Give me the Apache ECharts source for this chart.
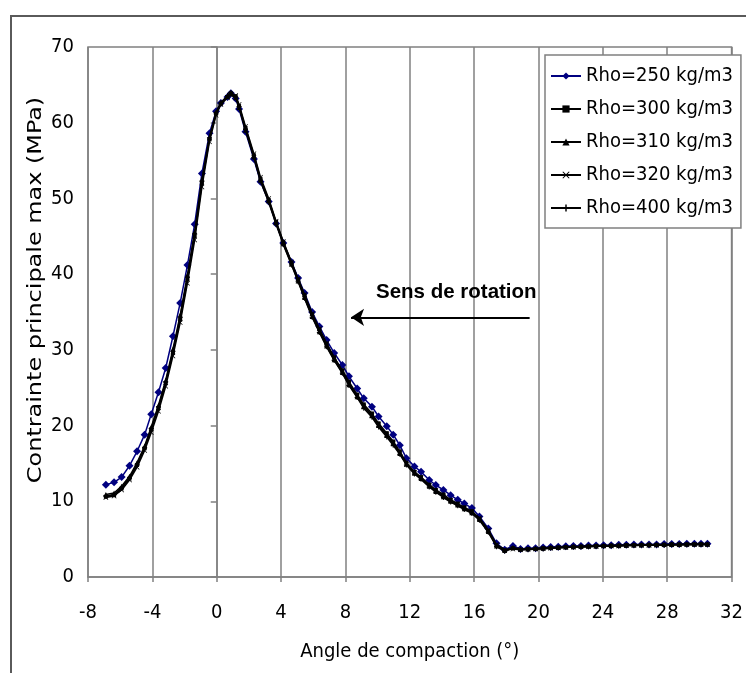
<!DOCTYPE html>
<html>
<head>
<meta charset="utf-8">
<script src="https://cdn.jsdelivr.net/npm/echarts@6/dist/echarts.min.js"></script>
<style>
html,body{margin:0;padding:0;background:#fff;}
#chart{width:746px;height:673px;}
</style>
</head>
<body>
<div id="chart"></div>
<script>
// Angle de compaction (°)
var xs = [-6.89,-6.38,-5.91,-5.42,-4.95,-4.48,-4.07,-3.62,-3.17,-2.72,-2.27,-1.82,-1.37,-0.92,-0.45,-0.04,
  0.26,0.67,0.88,1.18,1.39,1.79,
  2.31,2.72,3.23,3.69,4.14,4.65,5.06,5.46,5.93,6.38,
  6.83,7.30,7.81,8.22,8.73,9.14,9.65,10.06,10.57,10.97,
  11.38,11.79,12.29,12.70,13.21,13.62,14.09,14.54,14.98,15.39,
  15.86,16.33,16.88,17.39,17.90,18.41,18.88,19.35,19.82,20.29,
  20.76,21.23,21.70,22.17,22.64,23.11,23.58,24.05,24.52,24.99,
  25.46,25.93,26.40,26.87,27.34,27.81,28.28,28.75,29.22,29.69,
  30.10,30.50];

var rho250 = [12.2,12.5,13.2,14.7,16.6,18.8,21.5,24.4,27.6,31.8,36.2,41.2,46.6,53.3,58.6,61.5,
  62.6,63.4,63.9,63.2,61.8,58.8,
  55.2,52.2,49.6,46.7,44.1,41.6,39.5,37.5,35.0,33.1,
  31.3,29.6,28.0,26.5,24.9,23.6,22.5,21.2,19.9,18.8,
  17.4,15.7,14.6,13.9,12.8,12.15,11.5,10.8,10.2,9.7,
  9.1,8.0,6.4,4.45,3.6,4.1,3.7,3.8,3.8,3.9,
  3.95,4.0,4.05,4.1,4.1,4.15,4.15,4.2,4.2,4.25,
  4.25,4.3,4.3,4.3,4.3,4.35,4.35,4.35,4.4,4.4,
  4.4,4.4];

var rho300 = [10.6,10.8,11.7,13.0,14.8,17.0,19.5,22.3,25.6,29.6,34.0,39.3,45.0,52.0,57.8,61.2,
  62.5,63.4,63.9,63.5,62.2,59.3,
  55.7,52.6,49.8,46.9,44.2,41.5,39.3,37.2,34.7,32.7,
  30.8,29.0,27.3,25.8,24.1,22.8,21.6,20.3,19.0,17.9,
  16.6,15.1,13.9,13.2,12.2,11.5,10.9,10.2,9.7,9.2,
  8.7,7.7,6.1,4.2,3.5,3.8,3.6,3.7,3.7,3.8,
  3.85,3.9,3.95,4.0,4.0,4.05,4.1,4.1,4.15,4.15,
  4.2,4.2,4.2,4.25,4.25,4.25,4.3,4.3,4.3,4.3,
  4.3,4.3];

var rho310 = [10.9,11.1,12.0,13.3,15.1,17.3,19.8,22.7,26.0,30.1,34.6,39.9,45.6,52.5,58.1,61.4,
  62.7,63.5,63.8,63.3,62.0,59.0,
  55.5,52.4,49.7,46.8,44.0,41.3,39.1,36.9,34.4,32.4,
  30.5,28.7,27.0,25.4,23.8,22.5,21.3,20.0,18.7,17.6,
  16.3,14.9,13.7,13.0,12.0,11.3,10.6,10.0,9.5,9.0,
  8.5,7.6,6.0,4.1,3.5,3.9,3.7,3.7,3.8,3.8,
  3.9,3.9,4.0,4.0,4.05,4.1,4.1,4.15,4.15,4.2,
  4.2,4.25,4.25,4.25,4.3,4.3,4.3,4.3,4.35,4.35,
  4.35,4.35];

var rho320 = [10.5,10.7,11.5,12.8,14.5,16.7,19.1,21.9,25.2,29.2,33.6,38.8,44.5,51.5,57.5,61.0,
  62.4,63.3,63.7,63.6,62.4,59.5,
  55.9,52.8,50.0,47.0,44.3,41.6,39.4,37.3,34.8,32.8,
  30.9,29.0,27.2,25.6,23.9,22.6,21.4,20.1,18.8,17.7,
  16.4,14.9,13.8,13.1,12.1,11.4,10.7,10.1,9.6,9.1,
  8.6,7.8,6.2,4.3,3.6,3.7,3.6,3.7,3.7,3.8,
  3.8,3.85,3.9,3.95,4.0,4.0,4.05,4.1,4.1,4.1,
  4.15,4.15,4.2,4.2,4.2,4.25,4.25,4.25,4.3,4.3,
  4.3,4.3];

var rho400 = [10.7,10.9,11.8,13.1,14.9,17.1,19.6,22.5,25.8,29.8,34.3,39.6,45.3,52.3,58.0,61.3,
  62.6,63.6,64.0,63.4,62.1,59.1,
  55.4,52.3,49.5,46.6,43.9,41.2,39.0,36.8,34.3,32.3,
  30.4,28.6,26.9,25.3,23.7,22.3,21.1,19.8,18.5,17.4,
  16.2,14.8,13.6,12.9,11.9,11.2,10.5,9.9,9.4,8.9,
  8.4,7.5,5.9,4.0,3.4,3.8,3.6,3.6,3.7,3.7,
  3.8,3.85,3.9,3.95,3.95,4.0,4.05,4.05,4.1,4.1,
  4.15,4.15,4.2,4.2,4.2,4.2,4.25,4.25,4.25,4.3,
  4.3,4.3];

var seriesNames = ['Rho=250 kg/m3','Rho=300 kg/m3','Rho=310 kg/m3','Rho=320 kg/m3','Rho=400 kg/m3'];
var xTicks = {min: -8, max: 32, step: 4};
var yTicks = {min: 0, max: 70, step: 10};
var xTitle = 'Angle de compaction (°)';
var yTitle = 'Contrainte principale max (MPa)';
var annotationText = 'Sens de rotation';
var arrowFrom = [19.45, 34.3];
var arrowTo = [8.35, 34.3];

var FF = "'DejaVu Sans Condensed', 'DejaVu Sans', sans-serif";
var GRID = '#808080';

function pairs(ys){ return xs.map(function(x,i){ return [x, ys[i]]; }); }

var styles = [
  {color:'#000080', symbol:'diamond', size:8},
  {color:'#000000', symbol:'rect', size:4},
  {color:'#000000', symbol:'triangle', size:5},
  {color:'#000000', symbol:'path://M0,1L1,0L5,4L9,0L10,1L6,5L10,9L9,10L5,6L1,10L0,9L4,5Z', size:5},
  {color:'#000000', symbol:'path://M4,0H6V4H10V6H6V10H4V6H0V4H4Z', size:5}
];
var allData = [rho250, rho300, rho310, rho320, rho400];

var series = allData.map(function(d, k){
  var s = {
    name: seriesNames[k],
    type: 'line',
    data: pairs(d),
    symbol: styles[k].symbol,
    symbolSize: styles[k].size,
    showSymbol: true,
    color: styles[k].color,
    lineStyle: {color: styles[k].color, width: 1.5},
    itemStyle: {color: styles[k].color},
    emphasis: {disabled: true},
    z: 3 + k
  };
  if (k === 0) {
    s.markLine = {
      silent: true,
      symbol: ['none','arrow'],
      symbolSize: [13, 13],
      lineStyle: {color:'#000', width: 2, type:'solid'},
      label: {show:false},
      data: [[{coord: arrowFrom}, {coord: arrowTo}]]
    };
  }
  return s;
});

var chart = echarts.init(document.getElementById('chart'), null, {renderer:'canvas'});
chart.setOption({
  animation: false,
  backgroundColor: '#fff',
  textStyle: {fontFamily: FF},
  grid: {left: 88, right: 6, top: 47, bottom: 96, show: true, borderColor: GRID, borderWidth: 1.5, containLabel: false},
  xAxis: {
    type: 'value', min: xTicks.min, max: xTicks.max, interval: xTicks.step,
    name: xTitle, nameLocation: 'middle', nameGap: 65,
    nameTextStyle: {fontFamily: FF, fontSize: 20, color:'#000'},
    axisLine: {show: true, onZero: false, lineStyle: {color: GRID, width: 1.5}},
    axisTick: {show: true, length: 5, lineStyle: {color: GRID, width: 1.5}},
    axisLabel: {fontFamily: FF, fontSize: 20, color: '#000', margin: 26},
    splitLine: {show: true, lineStyle: {color: GRID, width: 1.5}}
  },
  yAxis: {
    type: 'value', min: yTicks.min, max: yTicks.max, interval: yTicks.step,
    axisLine: {show: true, lineStyle: {color: GRID, width: 1.5}},
    axisTick: {show: true, length: 6, lineStyle: {color: GRID, width: 1.5}},
    axisLabel: {fontFamily: FF, fontSize: 20, color: '#000', margin: 14},
    splitLine: {show: false}
  },
  legend: {
    orient: 'vertical', left: 545, top: 55,
    backgroundColor: '#fff', borderColor: GRID, borderWidth: 1.5, borderRadius: 0,
    padding: [11, 8, 10, 5],
    itemWidth: 30, itemHeight: 9, itemGap: 13,
    textStyle: {fontFamily: FF, fontSize: 20, color: '#000'},
    data: seriesNames
  },
  graphic: [
    {type:'rect', silent:true, z:-10, shape:{x:11, y:16, width:800, height:700},
     style:{fill:'none', stroke:'#5a5a5a', lineWidth:2}},
    {type:'text', silent:true, z:100, x: 36, y: 290, rotation: Math.PI/2, scaleX: 1.33,
     style:{text: yTitle, x:0, y:0, align:'center', verticalAlign:'middle',
            font: "20px 'DejaVu Sans Condensed', 'DejaVu Sans', sans-serif", fill:'#000'}},
    {type:'text', silent:true, z:100, left: 376, top: 282,
     style:{text: annotationText, font: "bold 20.5px 'Liberation Sans', Arial, sans-serif", fill:'#000'}}
  ],
  series: series
});
</script>
</body>
</html>
